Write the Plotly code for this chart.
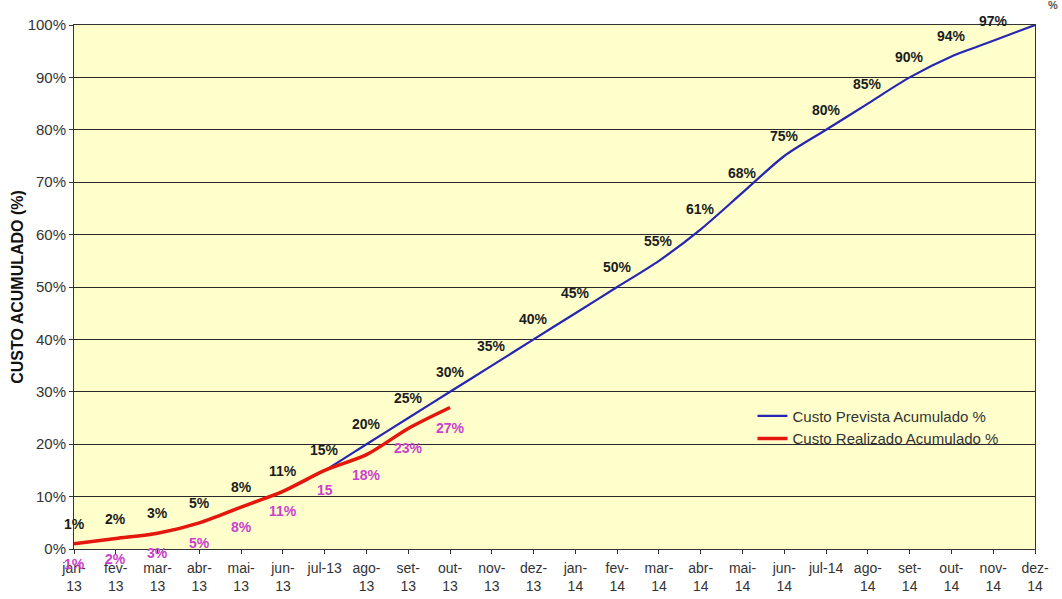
import plotly.graph_objects as go

# Months of the cost schedule (Jan/2013 - Dec/2014)
months = ["jan-<br>13", "fev-<br>13", "mar-<br>13", "abr-<br>13", "mai-<br>13", "jun-<br>13",
          "jul-13", "ago-<br>13", "set-<br>13", "out-<br>13", "nov-<br>13", "dez-<br>13",
          "jan-<br>14", "fev-<br>14", "mar-<br>14", "abr-<br>14", "mai-<br>14", "jun-<br>14",
          "jul-14", "ago-<br>14", "set-<br>14", "out-<br>14", "nov-<br>14", "dez-<br>14"]

# Planned cumulative cost (%)
prevista = [1, 2, 3, 5, 8, 11, 15, 20, 25, 30, 35, 40, 45, 50, 55, 61, 68, 75, 80, 85, 90, 94, 97, 100]
prevista_labels = ["1%", "2%", "3%", "5%", "8%", "11%", "15%", "20%", "25%", "30%", "35%", "40%",
                   "45%", "50%", "55%", "61%", "68%", "75%", "80%", "85%", "90%", "94%", "97%", "%"]

# Actual cumulative cost (%), available through Oct/2013
realizado = [1, 2, 3, 5, 8, 11, 15, 18, 23, 27]
realizado_labels = ["1%", "2%", "3%", "5%", "8%", "11%", "15", "18%", "23%", "27%"]

FONT = "Liberation Sans, Arial, sans-serif"
x_prev = list(range(len(prevista)))
x_real = list(range(len(realizado)))

fig = go.Figure()
fig.add_trace(go.Scatter(
    x=x_prev, y=prevista, mode="lines", name="Custo Prevista Acumulado %",
    line=dict(color="#2626b4", width=2.2, shape="spline", smoothing=0.8),
))
fig.add_trace(go.Scatter(
    x=x_real, y=realizado, mode="lines", name="Custo Realizado Acumulado %",
    line=dict(color="#e5170c", width=3.5, shape="spline", smoothing=0.8),
))

annotations = []
for i, (v, t) in enumerate(zip(prevista, prevista_labels)):
    last = i == len(prevista) - 1
    annotations.append(dict(
        x=x_prev[i], y=v, text=t, showarrow=False,
        xshift=18 if last else 0, yshift=20,
        font=dict(family=FONT, size=11 if last else 14, color="#555" if last else "#1c1c1c",
                  weight="bold"),
    ))
for i, (v, t) in enumerate(zip(realizado, realizado_labels)):
    annotations.append(dict(
        x=x_real[i], y=v, text=t, showarrow=False, yshift=-20,
        font=dict(family=FONT, size=14, color="#cc40cc", weight="bold"),
    ))

fig.update_layout(
    width=1062, height=599,
    margin=dict(l=74, r=27, t=25, b=50),
    paper_bgcolor="white",
    plot_bgcolor="#ffffcc",
    font=dict(family=FONT, size=15, color="#333"),
    showlegend=True,
    legend=dict(
        x=0.706, y=0.285, xanchor="left", yanchor="top",
        bgcolor="rgba(0,0,0,0)", font=dict(family=FONT, size=15, color="#333"),
        itemwidth=30, tracegroupgap=0,
    ),
    annotations=annotations,
    xaxis=dict(
        range=[0, len(months) - 1], tickmode="array", tickvals=x_prev, ticktext=months,
        showgrid=False, showline=True, linecolor="#333", linewidth=1, mirror=True,
        ticks="outside", ticklen=4, tickcolor="#333", zeroline=False,
        ticklabelstandoff=2, automargin=False,
        tickfont=dict(family=FONT, size=14, color="#333"),
    ),
    xaxis2=dict(
        range=[0, len(months) - 1], overlaying="x", tickmode="array", tickvals=x_prev,
        showticklabels=False, ticks="inside", ticklen=4, tickcolor="#333",
        showgrid=False, showline=False, zeroline=False,
    ),
    yaxis=dict(
        range=[0, 100], dtick=10, ticksuffix="%",
        showgrid=True, gridcolor="#2a2a2a", gridwidth=1,
        showline=True, linecolor="#333", linewidth=1, mirror=True,
        ticks="outside", ticklen=4, tickcolor="#333", zeroline=False,
        automargin=False,
        tickfont=dict(family=FONT, size=15, color="#333"),
        title=dict(text="CUSTO ACUMULADO (%)", standoff=0,
                   font=dict(family=FONT, size=16, color="#111", weight="bold")),
    ),
)

fig.write_html("out.html")
